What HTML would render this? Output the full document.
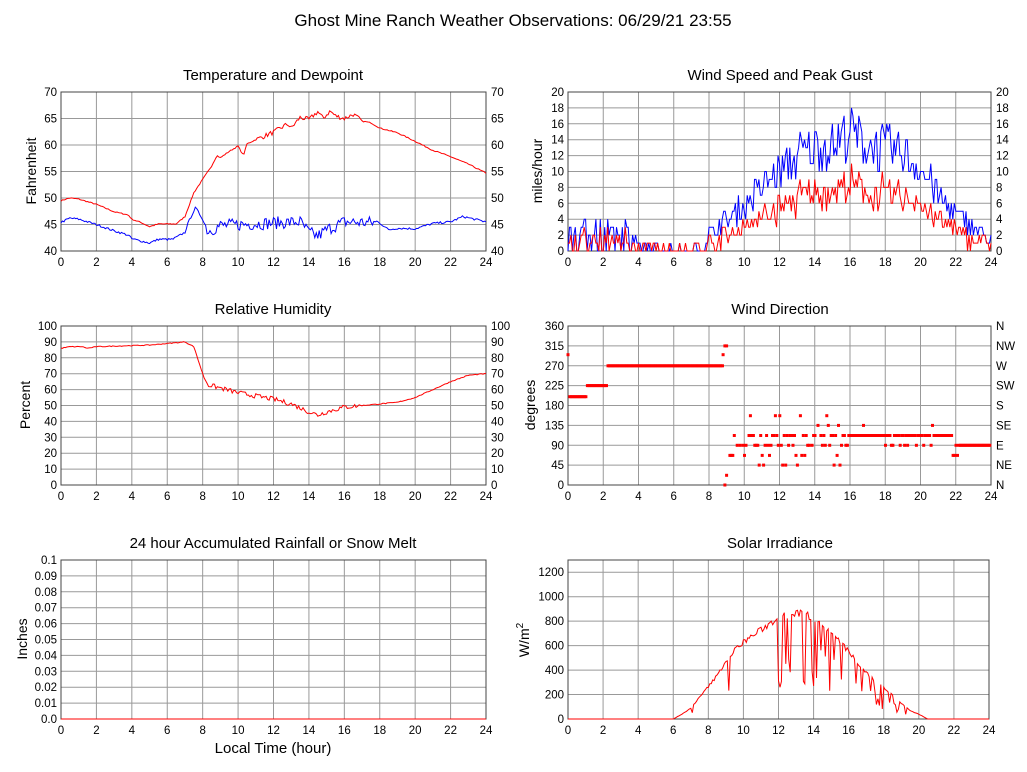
<!DOCTYPE html>
<html><head><meta charset="utf-8"><style>
html,body{margin:0;padding:0;background:#fff}
svg{display:block;font-family:"Liberation Sans",sans-serif}
</style></head><body>
<svg id="s" width="1027" height="772" viewBox="0 0 1027 772" xmlns="http://www.w3.org/2000/svg">
<text x="513" y="26" font-size="17" text-anchor="middle">Ghost Mine Ranch Weather Observations: 06/29/21 23:55</text>
<text x="273" y="80" font-size="15" text-anchor="middle">Temperature and Dewpoint</text>
<text x="780" y="80" font-size="15" text-anchor="middle">Wind Speed and Peak Gust</text>
<text x="273" y="314" font-size="15" text-anchor="middle">Relative Humidity</text>
<text x="780" y="314" font-size="15" text-anchor="middle">Wind Direction</text>
<text x="273" y="548" font-size="15" text-anchor="middle">24 hour Accumulated Rainfall or Snow Melt</text>
<text x="780" y="548" font-size="15" text-anchor="middle">Solar Irradiance</text>
<text x="273" y="753" font-size="15" text-anchor="middle">Local Time (hour)</text>
<text transform="translate(36,171) rotate(-90)" font-size="14" text-anchor="middle">Fahrenheit</text>
<text transform="translate(542,171) rotate(-90)" font-size="14" text-anchor="middle">miles/hour</text>
<text transform="translate(30,405) rotate(-90)" font-size="14" text-anchor="middle">Percent</text>
<text transform="translate(535,405) rotate(-90)" font-size="14" text-anchor="middle">degrees</text>
<text transform="translate(27,639) rotate(-90)" font-size="14" text-anchor="middle">Inches</text>
<text transform="translate(529,640) rotate(-90)" font-size="14" text-anchor="middle">W/m<tspan dy="-6" font-size="10">2</tspan></text>
<g id="g"></g>
</svg>
<script>
var g=document.getElementById('g'),h='';
var seed=7;function rnd(){seed=(seed*16807)%2147483647;return seed/2147483647;}
function interp(k,t){for(var i=0;i<k.length-1;i++){if(t<=k[i+1][0]){var a=k[i],b=k[i+1];return a[1]+(b[1]-a[1])*(t-a[0])/(b[0]-a[0]);}}return k[k.length-1][1];}
function panel(p){
 var X=function(t){return p.x0+(p.x1-p.x0)*t/24},Y=function(v){return p.y1-(p.y1-p.y0)*(v-p.min)/(p.max-p.min)};
 p.X=X;p.Y=Y;
 for(var t=0;t<=24;t+=2){var x=X(t);h+='<line x1="'+x+'" y1="'+p.y0+'" x2="'+x+'" y2="'+p.y1+'" stroke="#999" stroke-width="1"/>';
  h+='<text x="'+x+'" y="'+(p.y1+15)+'" font-size="11.5" text-anchor="middle">'+t+'</text>';}
 p.ticks.forEach(function(v,i){var y=Y(v);h+='<line x1="'+p.x0+'" y1="'+y+'" x2="'+p.x1+'" y2="'+y+'" stroke="#999" stroke-width="1"/>';
  h+='<text x="'+(p.x0-4)+'" y="'+(y+4)+'" font-size="11.5" text-anchor="end">'+(p.lab?p.lab[i]:v)+'</text>';
  if(p.right)h+='<text x="'+(p.x1+5)+'" y="'+(y+4)+'" font-size="11.5">'+(p.rlab?p.rlab[i]:v)+'</text>';});
 h+='<rect x="'+p.x0+'" y="'+p.y0+'" width="'+(p.x1-p.x0)+'" height="'+(p.y1-p.y0)+'" fill="none" stroke="#444"/>';
}
function line(p,f,col,n){var s='';for(var i=0;i<=n;i++){var t=24*i/n;var v=f(t);if(v<p.min)v=p.min;if(v>p.max)v=p.max;s+=p.X(t).toFixed(1)+','+p.Y(v).toFixed(1)+' ';}
 h+='<polyline points="'+s+'" fill="none" stroke="'+col+'" stroke-width="1"/>';}
function rng(a,b,s){var r=[];for(var v=a;v<=b+1e-9;v+=s)r.push(+v.toFixed(2));return r;}
// Temp
var T={x0:61,x1:486,y0:92,y1:251,min:40,max:70,ticks:rng(40,70,5),right:1};panel(T);
var tk=[[0,49.5],[0.5,50],[1,49.8],[2,48.8],[3,47.4],[3.8,46.8],[4,46],[4.5,45.4],[5,44.6],[5.5,45.1],[6.5,45.1],[7,46.5],[7.5,51],[8,53.5],[8.5,56],[8.8,58],[9,57.6],[9.5,58.8],[10,59.8],[10.3,58],[10.5,60.2],[11,61],[12,62.4],[12.8,64],[13,63.2],[13.5,65.2],[14,64.8],[14.5,66.3],[14.8,65],[15.2,66.4],[15.5,65.5],[16,65],[16.5,65.8],[17,64.5],[17.5,64.2],[18,63.2],[19,62.3],[20,60.7],[21,59],[22,57.8],[23,56.4],[24,54.7]];
line(T,function(t){return interp(tk,t)+(t>11&&t<17?(rnd()-0.5)*0.9:(rnd()-0.5)*0.2)},'#f00',288);
var dk=[[0,45.4],[0.5,46.2],[1,46],[2,45],[3,43.8],[3.8,43],[4,42.3],[5,41.5],[5.5,42.2],[6.3,42.2],[7,43.5],[7.2,45.5],[7.6,48.2],[8,46],[8.3,43.7],[9,44.8],[12,45.3],[13.5,45.5],[14,43.5],[14.5,42.8],[15,44],[16,45.5],[18,45.3],[18.5,44],[19,44.3],[20,44.2],[21,45.2],[22,45.5],[22.7,46.5],[24,45.5]];
line(T,function(t){return interp(dk,t)+(t>8&&t<18?(rnd()-0.5)*2.4:(rnd()-0.5)*0.4)},'#00f',288);
// Wind speed
var W={x0:568,x1:991,y0:92,y1:251,min:0,max:20,ticks:rng(0,20,2),right:1};panel(W);
var gk=[[0,2.5],[2,3],[3.5,3],[4,0.5],[5,0.5],[6,0.3],[7.5,0],[8,2],[9,4],[10,5.5],[11,8],[12,10],[13,12],[14,13],[15,13.5],[16,15],[17,13.5],[18,13],[19,12.5],[20,10.5],[21,7],[22,4.5],[23,3],[24,1.5]];
var gs=[],as=[];for(var i=0;i<=288;i++){var t=i/12,e=interp(gk,t);var gv=Math.max(0,e+(rnd()-0.5)*(1.5+e*0.35));if(t<8&&rnd()<0.35)gv=0;gv=Math.round(gv);gs.push(gv);as.push(Math.max(0,Math.round(gv*0.55+(rnd()-0.5)*2)));}
line(W,function(t){return gs[Math.round(t*12)]},'#00f',288);
line(W,function(t){return as[Math.round(t*12)]},'#f00',288);
// RH
var R={x0:61,x1:486,y0:326,y1:485,min:0,max:100,ticks:rng(0,100,10),right:1};panel(R);
var rk=[[0,86],[0.5,87],[1.2,87],[1.5,86],[2,87],[5,88],[6,89],[7,90],[7.5,87],[8,70],[8.3,63],[9,61],[10,58],[11,56],[12,54],[13,51],[14,46],[14.5,44],[15,46],[16,49],[17,50],[18,51],[19,52],[20,55],[21,60],[22,65],[23,69],[24,70]];
line(R,function(t){return interp(rk,t)+(t>8&&t<17?(rnd()-0.5)*3:(rnd()-0.5)*0.5)},'#f00',288);
// Wind direction
var D={x0:568,x1:991,y0:326,y1:485,min:0,max:360,ticks:rng(0,360,45),right:1,rlab:['N','NE','E','SE','S','SW','W','NW','N']};panel(D);
function sq(t,v){h+='<rect x="'+(D.X(t)-1.5).toFixed(1)+'" y="'+(D.Y(v)-1.5).toFixed(1)+'" width="3" height="3" fill="#f00"/>';}
sq(0,295);sq(8.8,295);sq(8.9,315);sq(9.0,315);sq(8.9,0);sq(9.0,22);
for(var t=0.1;t<24;t+=1/12){var v=null;
 if(t<1.1)v=200;else if(t<2.2)v=225;else if(t<8.8)v=270;else if(t<9.1)v=null;
 else{var r=rnd();if(t>21.8){v=90;if(t<22.2&&r<.5)v=67;}
  else if(t>15.5){v=r<.8?112:(r<.95?90:135);}
  else{var c=[135,112,90,67,45,112,90,157,67,45];v=r<.3?112:(r<.55?90:c[Math.floor(rnd()*c.length)]);if(rnd()<0.15)v=null;}}
 if(v!==null)sq(t,v);}
// Rain
var N={x0:61,x1:486,y0:560,y1:719,min:0,max:0.1,ticks:rng(0,0.1,0.01),lab:['0.0','0.01','0.02','0.03','0.04','0.05','0.06','0.07','0.08','0.09','0.1']};panel(N);
line(N,function(){return 0},'#f00',2);
// Solar
var S={x0:568,x1:989,y0:560,y1:719,min:0,max:1300,ticks:rng(0,1200,200)};panel(S);
var sk=[[6,0],[6.5,40],[7,90],[7.5,180],[8,270],[8.5,360],[9,480],[9.5,570],[10,640],[10.5,690],[11,740],[11.5,790],[12,840],[12.5,860],[13,880],[13.5,870],[14,840],[14.5,790],[15,720],[15.5,640],[16,560],[16.5,470],[17,380],[17.5,320],[18,260],[18.5,200],[19,130],[19.5,70],[20,40],[20.5,0],[24,0]];
line(S,function(t){if(t<6||t>20.5)return 0;var e=interp(sk,t);
 var v=e*(0.95+rnd()*0.07);if(t>6.5&&t<9.5&&rnd()<0.1)v*=0.4+rnd()*0.3;if(t>9.5&&t<12&&rnd()<0.05)v*=0.2;if(t>=12&&t<19.5&&rnd()<0.3)v*=0.3+rnd()*0.5;return v;},'#f00',288);
g.innerHTML=h;
</script>
</body></html>
